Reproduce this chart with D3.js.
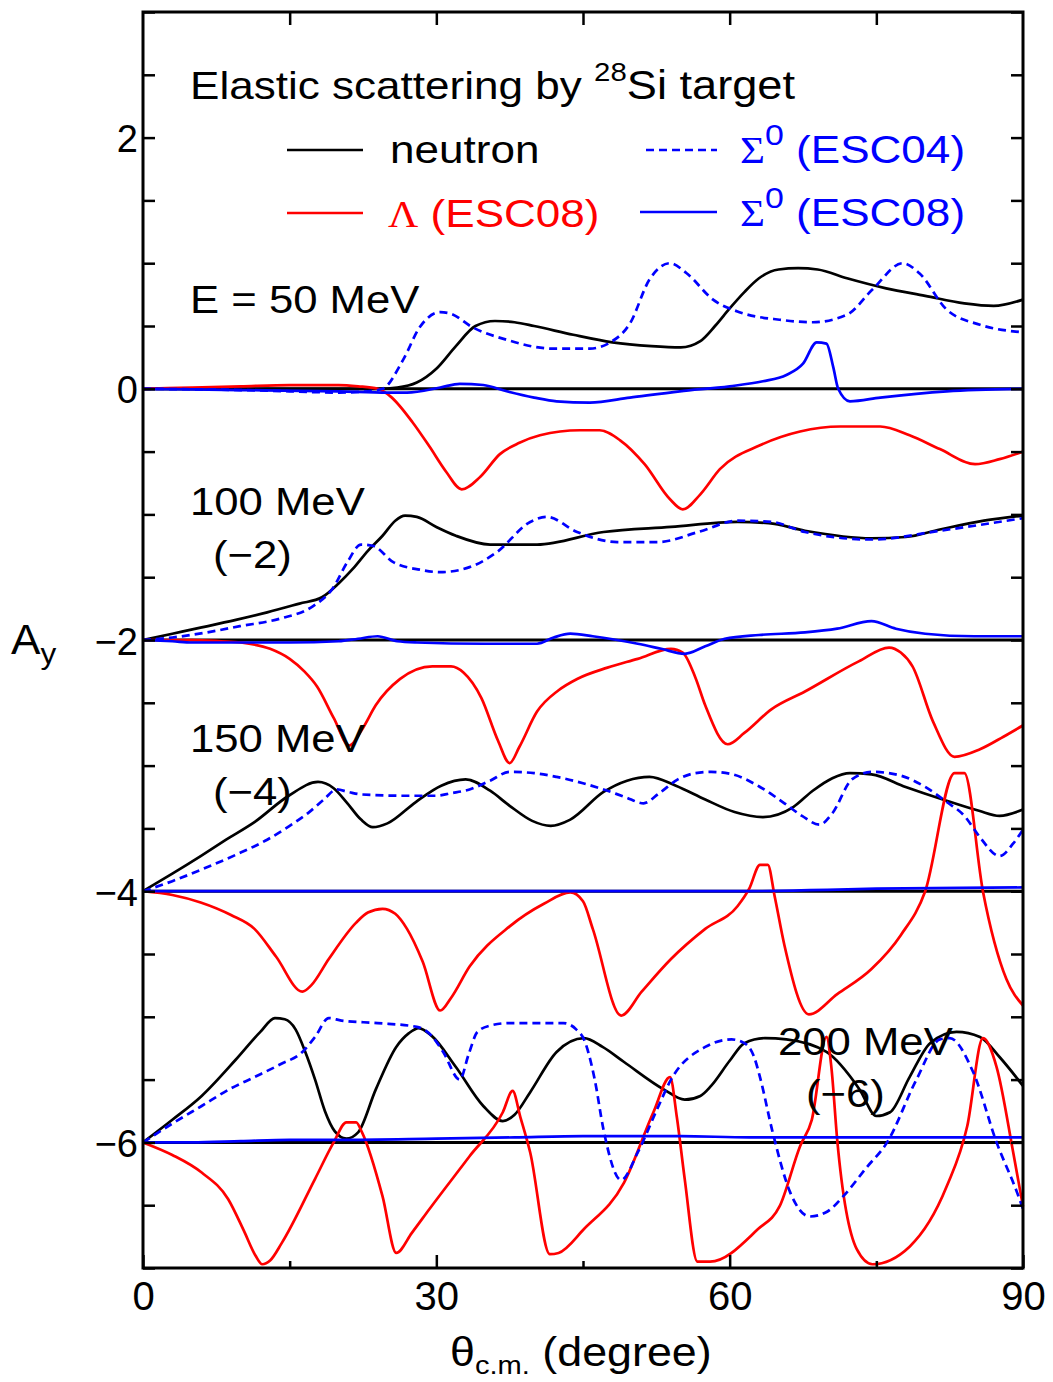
<!DOCTYPE html>
<html>
<head>
<meta charset="utf-8">
<script src="https://cdn.jsdelivr.net/npm/d3@7"></script>
<style>
  html, body { margin: 0; padding: 0; background: #fff; }
  svg { display: block; }
</style>
</head>
<body>
<svg id="chart" width="1053" height="1382"></svg>
<script>
// Analyzing power A_y for elastic scattering on 28Si, theta_cm in degrees.
// Each curve is a list of [theta, A_y] points (unshifted A_y).

// ---- E = 50 MeV (no shift) ----
const neutron50 = [[0,0],[10,0],[20,0],[24,0],[26,0.01],[28,0.05],[30,0.16],[32,0.34],[34,0.5],[36,0.54],[38,0.53],[40,0.5],[44,0.43],[48,0.37],[52,0.34],[55,0.33],[57,0.38],[58.5,0.5],[60,0.64],[61.5,0.77],[63,0.88],[65,0.95],[67,0.96],[69,0.95],[72,0.88],[76,0.8],[80,0.74],[84,0.68],[87,0.66],[90,0.71]];
const lambda50 = [[0,0],[5,0.01],[10,0.02],[15,0.03],[20,0.03],[22,0.02],[24,0],[25.3,-0.06],[27.6,-0.27],[29.3,-0.46],[31,-0.66],[32.6,-0.8],[34.5,-0.7],[36.5,-0.52],[38.5,-0.43],[40.6,-0.37],[44.7,-0.33],[46.7,-0.33],[48.8,-0.41],[51.3,-0.6],[53.9,-0.88],[55.2,-0.96],[57,-0.84],[59,-0.64],[63.1,-0.45],[67.2,-0.34],[71.3,-0.3],[75.4,-0.3],[78.4,-0.37],[81.5,-0.48],[85.1,-0.6],[87.6,-0.56],[90,-0.5]];
const sigma04_50 = [[0,0],[10,-0.01],[15,-0.02],[20,-0.03],[23,-0.02],[24.5,0],[26.6,0.23],[28.3,0.49],[30.4,0.61],[31.4,0.6],[33.7,0.49],[37.2,0.39],[41.9,0.32],[45.7,0.32],[47.8,0.37],[49.8,0.52],[51.8,0.87],[53.9,1.0],[55.6,0.92],[58.3,0.71],[61,0.61],[65.1,0.55],[68.5,0.53],[72,0.59],[74.6,0.79],[77.7,1.0],[79.4,0.92],[82.2,0.63],[85.6,0.51],[90,0.45]];
const sigma08_50 = [[0,0],[10,-0.01],[20,-0.02],[25,-0.03],[27,-0.03],[30.4,0.01],[32.4,0.04],[34.8,0.03],[37.2,-0.02],[40,-0.07],[42.3,-0.1],[45.7,-0.11],[49.8,-0.07],[54.9,-0.02],[60,0.02],[63.4,0.06],[65.8,0.11],[67.5,0.2],[68.9,0.37],[69.9,0.36],[70.6,0.17],[71.1,0],[72.3,-0.1],[75.4,-0.07],[82.2,-0.02],[90,0]];

// ---- E = 100 MeV (shifted by -2) ----
const neutron100 = [[0,0],[3,0.05],[6,0.1],[9.5,0.16],[12.7,0.22],[16,0.29],[18.3,0.34],[20,0.45],[21.5,0.57],[23,0.71],[24.5,0.83],[25.8,0.95],[26.8,0.99],[28,0.98],[30,0.9],[32,0.83],[35.5,0.76],[40.3,0.76],[47.1,0.86],[54,0.9],[60.8,0.94],[64,0.93],[67.7,0.87],[74.5,0.81],[78,0.82],[81.5,0.88],[86,0.95],[90,0.99]];
const lambda100 = [[0,0],[5,0],[8,-0.01],[10,-0.02],[13,-0.07],[15,-0.15],[16.5,-0.25],[17.8,-0.37],[19.5,-0.62],[21.1,-0.84],[22.5,-0.7],[23.8,-0.52],[26.3,-0.31],[29.6,-0.21],[31.5,-0.21],[32.8,-0.26],[34.6,-0.46],[36.3,-0.8],[37.5,-0.98],[38.5,-0.85],[40.3,-0.57],[42.5,-0.4],[44.4,-0.31],[47.5,-0.22],[50.6,-0.15],[54,-0.07],[55.2,-0.1],[56.5,-0.3],[57.5,-0.52],[59.8,-0.83],[61.5,-0.74],[64.3,-0.55],[67.7,-0.41],[73.2,-0.17],[76.3,-0.06],[77.5,-0.1],[78.7,-0.21],[80.8,-0.65],[83,-0.93],[85.6,-0.87],[88,-0.77],[90,-0.68]];
const sigma04_100 = [[0,0],[3,0.02],[6.5,0.06],[9.9,0.11],[14,0.17],[17.4,0.27],[19.4,0.41],[20.9,0.62],[22.3,0.76],[23.5,0.75],[25.6,0.62],[28.3,0.56],[30.4,0.54],[33.4,0.58],[36.2,0.7],[39.6,0.94],[41.3,0.98],[44.4,0.86],[48.5,0.78],[52.7,0.78],[56.8,0.86],[60.8,0.95],[64.3,0.94],[67.7,0.86],[74.5,0.8],[81.5,0.87],[90,0.97]];
const sigma08_100 = [[0,0],[3,-0.01],[5,-0.02],[15,-0.02],[20,-0.01],[22,0.01],[24,0.03],[26,-0.01],[28,-0.02],[35,-0.03],[40.3,-0.03],[42,0.02],[43.7,0.05],[46,0.03],[50.6,-0.03],[53,-0.07],[55.4,-0.11],[57.5,-0.05],[59.5,0.01],[63,0.04],[67.7,0.06],[71,0.09],[74.5,0.15],[77,0.09],[80,0.05],[85,0.03],[90,0.03]];

// ---- E = 150 MeV (shifted by -4) ----
const neutron150 = [[0,0],[3,0.14],[5.9,0.28],[8.5,0.41],[11.4,0.55],[14.9,0.76],[17.9,0.87],[19.5,0.82],[20.8,0.71],[22.3,0.57],[23.5,0.51],[25,0.54],[27.9,0.71],[30.5,0.84],[33,0.89],[35.5,0.8],[37.5,0.68],[39.8,0.56],[41.7,0.52],[43.7,0.57],[47.1,0.79],[49.5,0.88],[51.8,0.91],[54.5,0.84],[57.5,0.73],[60.5,0.63],[63.4,0.59],[66.5,0.67],[68.5,0.8],[70.5,0.9],[72.3,0.94],[74.5,0.93],[78,0.83],[81.8,0.73],[85.5,0.64],[87.6,0.6],[90,0.65]];
const lambda150 = [[0,0],[3,-0.03],[5.9,-0.09],[9,-0.19],[11.4,-0.3],[13.6,-0.52],[16.3,-0.8],[17.2,-0.75],[19,-0.54],[21.8,-0.25],[23,-0.17],[24.5,-0.14],[25.8,-0.18],[27,-0.3],[28.6,-0.56],[30.4,-0.95],[31.5,-0.85],[33.4,-0.6],[37.5,-0.28],[41,-0.1],[43.7,-0.01],[45,-0.08],[46,-0.3],[48.9,-0.99],[51,-0.8],[54,-0.54],[57.5,-0.3],[60.8,-0.12],[62,0.02],[63.1,0.21],[63.9,0.21],[64.6,-0.04],[65.6,-0.43],[68.1,-0.98],[71,-0.82],[74.5,-0.62],[77.5,-0.35],[80,0],[83,0.94],[84,0.94],[85.9,0],[88.3,-0.7],[90,-0.91]];
const sigma04_150 = [[0,0],[3,0.08],[5.9,0.17],[9.5,0.29],[12.7,0.41],[15,0.52],[17,0.63],[18.5,0.73],[19.8,0.81],[21,0.79],[22.4,0.77],[26.6,0.76],[30,0.76],[31.5,0.78],[33.4,0.81],[35.5,0.88],[37.5,0.95],[40,0.94],[42.3,0.91],[45,0.86],[47.1,0.81],[49.3,0.75],[51.2,0.7],[52.8,0.78],[54.7,0.89],[56.5,0.94],[58.1,0.95],[60.3,0.93],[63.1,0.83],[65.6,0.7],[67.4,0.6],[69.2,0.53],[70.5,0.62],[72.5,0.89],[74.6,0.95],[77.5,0.92],[80,0.83],[82.2,0.71],[84,0.6],[85.5,0.44],[87.6,0.28],[89,0.38],[90,0.49]];
const sigma08_150 = [[0,0],[20,0],[40,0],[60,0],[70,0.01],[75,0.02],[90,0.03]];

// ---- E = 200 MeV (shifted by -6) ----
const neutron200 = [[0,0],[3,0.18],[6,0.37],[9.5,0.66],[12,0.88],[13.5,0.99],[14.5,0.98],[15.6,0.9],[16.6,0.72],[17.6,0.5],[18.6,0.25],[19.6,0.09],[20.8,0.03],[22,0.08],[23.8,0.42],[25.9,0.76],[27.2,0.87],[28.2,0.91],[29.5,0.85],[32,0.6],[34.8,0.29],[36.8,0.17],[38,0.22],[39.6,0.4],[42.3,0.72],[45.1,0.83],[47,0.76],[49.2,0.64],[53.3,0.42],[55.4,0.34],[57,0.37],[58.1,0.45],[60,0.65],[61.5,0.79],[63.6,0.83],[65.8,0.82],[69.9,0.72],[73.3,0.42],[75,0.21],[76.4,0.24],[78.4,0.52],[80.5,0.79],[83.2,0.88],[85.6,0.84],[87.6,0.68],[90,0.45]];
const lambda200 = [[0,0],[3,-0.1],[6,-0.24],[8.7,-0.45],[10.3,-0.7],[11.5,-0.9],[12.2,-0.97],[13,-0.94],[14.2,-0.8],[17.6,-0.29],[19.5,0],[20.8,0.16],[21.8,0.16],[22.4,0.08],[24.5,-0.43],[25.9,-0.88],[27.5,-0.72],[29.3,-0.53],[33.4,-0.11],[36.8,0.24],[37.8,0.41],[38.6,0.2],[39.6,-0.08],[41.6,-0.89],[42.5,-0.88],[45.1,-0.69],[49.2,-0.32],[52.2,0.24],[53.9,0.52],[54.6,0.2],[55.4,-0.29],[56.7,-0.95],[58,-0.95],[62.9,-0.69],[65.1,-0.51],[67.2,-0.03],[68.4,0.18],[69.9,0.84],[70.4,0.6],[71,0.02],[73,-0.85],[74.6,-0.97],[78.4,-0.83],[82.2,-0.35],[84.3,0.13],[85.9,0.83],[87.3,0.6],[89,-0.08],[90,-0.51]];
const sigma04_200 = [[0,0],[3,0.15],[6,0.29],[9,0.43],[11.4,0.52],[14,0.62],[16.3,0.72],[17.6,0.84],[19,0.99],[20.3,0.97],[24,0.95],[28,0.92],[29.5,0.85],[30.7,0.72],[32.4,0.5],[33.3,0.7],[34.2,0.88],[35.5,0.93],[37.5,0.95],[43,0.95],[44.3,0.9],[45.1,0.82],[46.2,0.5],[47.1,0.1],[48.9,-0.3],[50.6,-0.08],[52.5,0.25],[54,0.5],[57.5,0.76],[60.2,0.82],[61.5,0.79],[62.5,0.68],[63.1,0.52],[64.4,0.08],[66.2,-0.4],[68.2,-0.59],[70,-0.55],[71.6,-0.43],[74,-0.2],[76.1,0],[79.1,0.5],[81.5,0.82],[82.5,0.83],[84.9,0.56],[87.3,0],[89.4,-0.4],[90,-0.53]];
const sigma08_200 = [[0,0],[5,0],[10,0.01],[15,0.02],[20,0.02],[30,0.03],[38,0.04],[45,0.05],[55,0.05],[62,0.04],[70,0.04],[80,0.04],[90,0.04]];

// Energies and the vertical shift applied to each group of curves
const energyLabels = ["E = 50 MeV", "100 MeV", "150 MeV", "200 MeV"];
const shiftLabels = [null, "(\u22122)", "(\u22124)", "(\u22126)"];
const offsets = [0, -2, -4, -6];

// Axis ticks
const xLabelTicks = [0, 30, 60, 90];
const xMinorTicks = [15, 45, 75];
const xTopTicks = [15, 30, 45, 60, 75];
const yLabelTicks = [2, 0, -2, -4, -6];
const yAllTicks = d3.range(-7, 3.001, 0.5);

const groups = [
  { neutron: neutron50,  lambda: lambda50,  sigma04: sigma04_50,  sigma08: sigma08_50 },
  { neutron: neutron100, lambda: lambda100, sigma04: sigma04_100, sigma08: sigma08_100 },
  { neutron: neutron150, lambda: lambda150, sigma04: sigma04_150, sigma08: sigma08_150 },
  { neutron: neutron200, lambda: lambda200, sigma04: sigma04_200, sigma08: sigma08_200 }
];

const seriesStyles = [
  { key: "neutron", color: "#000000", dash: null },
  { key: "lambda",  color: "#ff0000", dash: null },
  { key: "sigma04", color: "#0000ff", dash: "8,5" },
  { key: "sigma08", color: "#0000ff", dash: null }
];

// ---- layout ----
const sans = "'Liberation Sans', Arial, Helvetica, sans-serif";
const serif = "'Liberation Serif', 'Times New Roman', serif";
const plot = { left: 143, right: 1023, top: 12, bottom: 1268 };

const svg = d3.select("#chart");
svg.append("rect").attr("width", 1053).attr("height", 1382).attr("fill", "#fff");

const x = d3.scaleLinear().domain([0, 90]).range([plot.left, plot.right]);
const y = d3.scaleLinear().domain([-7, 3]).range([plot.bottom, plot.top]);

// zero lines for each shifted group
svg.append("g").selectAll("line").data(offsets).join("line")
  .attr("x1", x(0)).attr("x2", x(90))
  .attr("y1", d => y(d)).attr("y2", d => y(d))
  .attr("stroke", "#000").attr("stroke-width", 3);

// curves
const curves = svg.append("g").attr("fill", "none");
groups.forEach((g, i) => {
  const off = offsets[i];
  const line = d3.line()
    .x(d => x(d[0]))
    .y(d => y(d[1] + off))
    .curve(d3.curveMonotoneX);
  seriesStyles.forEach(s => {
    curves.append("path")
      .attr("d", line(g[s.key]))
      .attr("stroke", s.color)
      .attr("stroke-width", 2.7)
      .attr("stroke-linejoin", "round")
      .attr("stroke-dasharray", s.dash);
  });
});

// ---- axes (ticks point inward) ----
function styleAxis(sel) {
  sel.select(".domain").remove();
  sel.selectAll(".tick line").attr("stroke", "#000").attr("stroke-width", 2.5);
  sel.selectAll(".tick text").attr("fill", "#000").attr("font-family", sans);
}

svg.append("g").attr("transform", `translate(0,${plot.bottom})`)
  .call(d3.axisBottom(x).tickValues(xLabelTicks).tickSizeInner(-13).tickSizeOuter(0).tickPadding(14))
  .call(styleAxis)
  .call(g => g.selectAll(".tick text").attr("font-size", 40));

svg.append("g").attr("transform", `translate(0,${plot.bottom})`)
  .call(d3.axisBottom(x).tickValues(xMinorTicks).tickSizeInner(-7).tickSizeOuter(0).tickFormat(""))
  .call(styleAxis);

svg.append("g").attr("transform", `translate(0,${plot.top})`)
  .call(d3.axisTop(x).tickValues(xTopTicks).tickSizeInner(-13).tickSizeOuter(0).tickFormat(""))
  .call(styleAxis);

svg.append("g").attr("transform", `translate(${plot.left},0)`)
  .call(d3.axisLeft(y).tickValues(yAllTicks).tickSizeInner(-12).tickSizeOuter(0).tickPadding(5)
    .tickFormat(d => yLabelTicks.some(v => Math.abs(v - d) < 1e-9) ? d3.format("")(d).replace("-", "\u2212") : ""))
  .call(styleAxis)
  .call(g => g.selectAll(".tick text").attr("font-size", 38).attr("dy", "0.37em"));

svg.append("g").attr("transform", `translate(${plot.right},0)`)
  .call(d3.axisRight(y).tickValues(yAllTicks).tickSizeInner(-12).tickSizeOuter(0).tickFormat(""))
  .call(styleAxis);

// frame
svg.append("rect")
  .attr("x", plot.left).attr("y", plot.top)
  .attr("width", plot.right - plot.left).attr("height", plot.bottom - plot.top)
  .attr("fill", "none").attr("stroke", "#000").attr("stroke-width", 3);

// ---- text helper: parts are {t, size, serif, dy} ----
function addText(px, py, parts, opt = {}) {
  const size = opt.size || 39;
  const sx = opt.sx || 1.12;
  const t = svg.append("text")
    .attr("transform", `translate(${px},${py}) scale(${sx},1)`)
    .attr("font-family", sans)
    .attr("font-size", size)
    .attr("fill", opt.fill || "#000");
  parts.forEach(p => {
    const ts = t.append("tspan").text(p.t);
    if (p.size) ts.attr("font-size", p.size);
    if (p.serif) ts.attr("font-family", serif);
    if (p.dy) ts.attr("dy", p.dy);
  });
  return t;
}

// title
addText(190, 99, [
  { t: "Elastic scattering by " },
  { t: "28", size: 26, dy: -18 },
  { t: "Si target", size: 40, dy: 18 }
], { sx: 1.13 });

// legend
const legendRows = [
  { x1: 287, x2: 363, y: 150, color: "#000", dash: null, tx: 390, ty: 163,
    parts: [{ t: "neutron" }] },
  { x1: 287, x2: 363, y: 213, color: "#f00", dash: null, tx: 388, ty: 227,
    parts: [{ t: "\u039b", serif: true, size: 37 }, { t: " (ESC08)" }] },
  { x1: 646, x2: 717, y: 150, color: "#00f", dash: "8,5", tx: 740, ty: 163,
    parts: [{ t: "\u03a3", serif: true, size: 38 }, { t: "0", size: 30, dy: -18 }, { t: " (ESC04)", dy: 18 }] },
  { x1: 640, x2: 717, y: 212, color: "#00f", dash: null, tx: 740, ty: 226,
    parts: [{ t: "\u03a3", serif: true, size: 38 }, { t: "0", size: 30, dy: -18 }, { t: " (ESC08)", dy: 18 }] }
];
legendRows.forEach(r => {
  svg.append("line")
    .attr("x1", r.x1).attr("x2", r.x2).attr("y1", r.y).attr("y2", r.y)
    .attr("stroke", r.color).attr("stroke-width", 2.7)
    .attr("stroke-dasharray", r.dash);
  addText(r.tx, r.ty, r.parts, { fill: r.color, sx: 1.13 });
});

// energy labels
const energyPos = [
  { x: 190, y: 313 }, { x: 190, y: 515 }, { x: 190, y: 752 }, { x: 778, y: 1055 }
];
const shiftPos = [null, { x: 213, y: 568 }, { x: 213, y: 805 }, { x: 806, y: 1107 }];
energyLabels.forEach((lab, i) => {
  addText(energyPos[i].x, energyPos[i].y, [{ t: lab }]);
  if (shiftLabels[i]) addText(shiftPos[i].x, shiftPos[i].y, [{ t: shiftLabels[i] }]);
});

// axis titles
addText(11, 654, [{ t: "A", size: 42 }, { t: "y", size: 30, dy: 10 }], { sx: 1.05 });
addText(450, 1366, [
  { t: "\u03b8", size: 40 },
  { t: "c.m.", size: 26, dy: 8 },
  { t: " (degree)", size: 40, dy: -8 }
]);
</script>
</body>
</html>
